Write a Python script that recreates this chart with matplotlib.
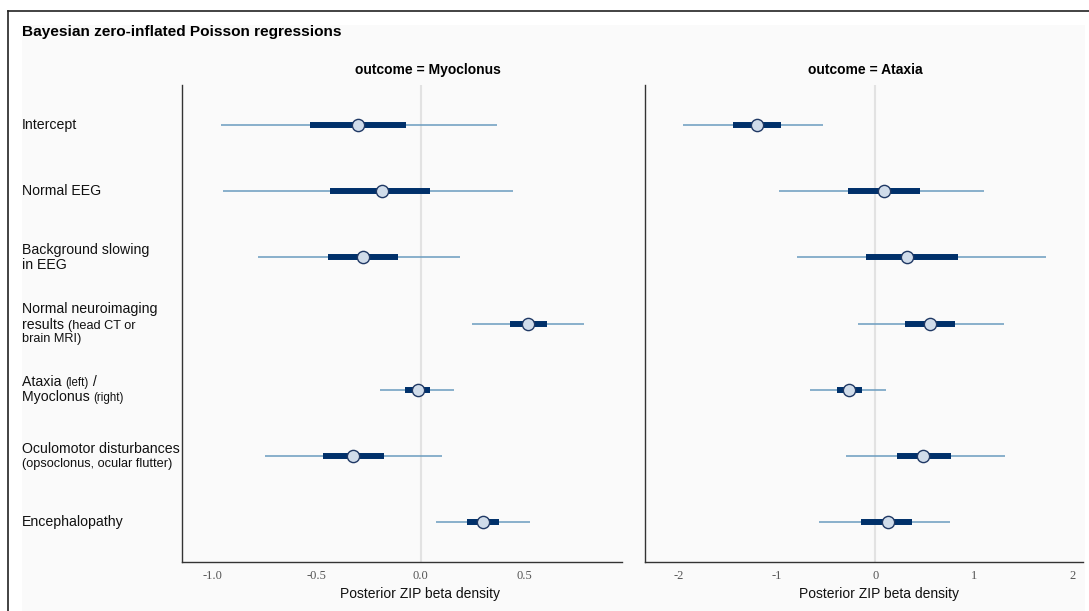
import matplotlib
matplotlib.use("Agg")
import matplotlib.pyplot as plt
from matplotlib.patches import Rectangle
from matplotlib.lines import Line2D
from matplotlib.offsetbox import TextArea, HPacker, VPacker, AnnotationBbox
from matplotlib.transforms import blended_transform_factory

# rótulos das linhas (texto, tamanho: 0 normal, 1 pequeno, 2 menor)
rotulos = [
    [[("Intercept", 0)]],
    [[("Normal EEG", 0)]],
    [[("Background slowing", 0)], [("in EEG", 0)]],
    [[("Normal neuroimaging", 0)], [("results ", 0), ("(head CT or", 1)], [("brain MRI)", 1)]],
    [[("Ataxia ", 0), ("(left)", 2), (" /", 0)], [("Myoclonus ", 0), ("(right)", 2)]],
    [[("Oculomotor disturbances", 0)], [("(opsoclonus, ocular flutter)", 1)]],
    [[("Encephalopathy", 0)]],
]

# outcome = Myoclonus
myo_med = [-0.30, -0.185, -0.277, 0.517, -0.015, -0.324, 0.298]
myo_in_lo = [-0.53, -0.435, -0.446, 0.428, -0.075, -0.47, 0.223]
myo_in_hi = [-0.07, 0.045, -0.11, 0.609, 0.046, -0.178, 0.376]
myo_out_lo = [-0.96, -0.95, -0.78, 0.245, -0.196, -0.747, 0.075]
myo_out_hi = [0.365, 0.444, 0.187, 0.785, 0.16, 0.104, 0.524]

# outcome = Ataxia
atx_med = [-1.204, 0.092, 0.322, 0.555, -0.264, 0.487, 0.126]
atx_in_lo = [-1.445, -0.277, -0.094, 0.305, -0.392, 0.217, -0.145]
atx_in_hi = [-0.96, 0.454, 0.836, 0.806, -0.138, 0.765, 0.369]
atx_out_lo = [-1.95, -0.98, -0.80, -0.172, -0.66, -0.297, -0.571]
atx_out_hi = [-0.534, 1.10, 1.733, 1.31, 0.109, 1.317, 0.761]

titulos = ["outcome = Myoclonus", "outcome = Ataxia"]
xticks_esq = [-1.0, -0.5, 0.0, 0.5]
xticks_dir = [-2, -1, 0, 1, 2]

W, H = 1089, 611
tamanhos = {0: 10.2, 1: 9.2, 2: 8.3}

fig = plt.figure(figsize=(W / 100, H / 100), dpi=100)
fig.patch.set_facecolor("white")

# fundo cinza e moldura
fig.patches.append(Rectangle((22 / W, 0), (1085 - 22) / W, 1 - 25 / H,
                             transform=fig.transFigure, facecolor="#fafafa",
                             edgecolor="none", zorder=-10))
fig.lines.append(Line2D([8 / W, 8 / W], [-0.01, 1 - 11 / H], transform=fig.transFigure,
                        color="#222222", lw=1.2))
fig.lines.append(Line2D([8 / W, 1.01], [1 - 11 / H, 1 - 11 / H], transform=fig.transFigure,
                        color="#222222", lw=1.2))

fig.text(22 / W, 1 - 32 / H, "Bayesian zero-inflated Poisson regressions",
         fontsize=11.1, fontweight="bold", family="Liberation Sans", va="center", ha="left")

bottom = 1 - 562 / H
height = (562 - 85) / H
ax1 = fig.add_axes([182.3 / W, bottom, 439.4 / W, height])
ax2 = fig.add_axes([645 / W, bottom, 438.3 / W, height])

dados = [
    (ax1, titulos[0], myo_med, myo_in_lo, myo_in_hi, myo_out_lo, myo_out_hi, (-1.146, 0.966),
     xticks_esq, ["-1.0", "-0.5", "0.0", "0.5"], 0.559, 0.541),
    (ax2, titulos[1], atx_med, atx_in_lo, atx_in_hi, atx_out_lo, atx_out_hi, (-2.338, 2.11),
     xticks_dir, ["-2", "-1", "0", "1", "2"], 0.502, 0.534),
]

for ax, tit, med, ilo, ihi, olo, ohi, xl, xt, xtl, tx, lx in dados:
    ax.set_facecolor("none")
    ax.axvline(0, color="#e2e2e2", lw=1.5, zorder=1)
    for i in range(len(med)):
        ax.plot([olo[i], ohi[i]], [i, i], color="#6a9cbf", lw=1.1, solid_capstyle="butt", zorder=2)
        ax.plot([ilo[i], ihi[i]], [i, i], color="#00306a", lw=4.3, solid_capstyle="butt", zorder=3)
        ax.plot(med[i], i, "o", ms=8.8, mfc="#d0dcea", mec="#1f3864", mew=1.0, zorder=4)
    ax.set_xlim(*xl)
    ax.set_ylim(len(med) - 1 + 0.6, -0.6)
    ax.set_yticks([])
    ax.set_xticks(xt)
    ax.set_xticklabels(xtl, family="Liberation Serif", fontsize=9, color="#555555")
    ax.tick_params(axis="x", length=0, pad=6)
    for s in ["top", "right"]:
        ax.spines[s].set_visible(False)
    for s in ["left", "bottom"]:
        ax.spines[s].set_color("#333333")
        ax.spines[s].set_linewidth(1.0)
    ax.set_xlabel("Posterior ZIP beta density", family="Liberation Sans", fontsize=10, color="#111111")
    ax.xaxis.set_label_coords(lx, -0.052)
    ax.text(tx, 1 + 15 / 477, tit, transform=ax.transAxes,
            ha="center", va="center", fontsize=10, fontweight="bold", family="Liberation Sans")

# rótulos à esquerda com tamanhos misturados
trans = blended_transform_factory(fig.transFigure, ax1.transData)
for i, linhas in enumerate(rotulos):
    filhos = []
    for linha in linhas:
        partes = [TextArea(t, textprops=dict(fontsize=tamanhos[p], family="Liberation Sans",
                                             color="#111111"))
                  for t, p in linha]
        filhos.append(HPacker(children=partes, align="baseline", pad=0, sep=0))
    caixa = VPacker(children=filhos, align="left", pad=0, sep=1)
    ab = AnnotationBbox(caixa, (22 / W, i), xycoords=trans, box_alignment=(0, 0.5),
                        frameon=False, pad=0, annotation_clip=False)
    ax1.add_artist(ab)

plt.savefig("out.png", dpi=100)
